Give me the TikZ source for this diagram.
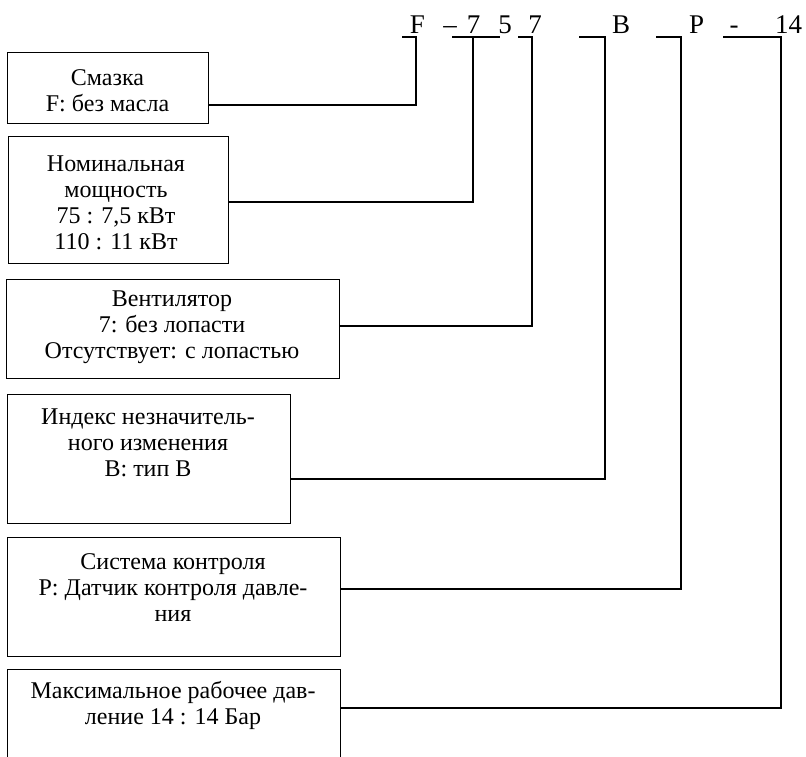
\documentclass[tikz,border=0pt]{standalone}
\usepackage{fontspec}
\setmainfont{Liberation Serif}
\usetikzlibrary{positioning}

\begin{document}
\begin{tikzpicture}[
  x=1pt,y=-1pt,
  codebox/.style 2 args={draw,line width=1.4pt,minimum width=#1,minimum height=#2,
                         anchor=north west,inner sep=0pt},
  boxtext/.style={font=\fontsize{24}{26}\selectfont,align=center,inner sep=0pt},
  codechar/.style={font=\fontsize{27}{30}\selectfont,anchor=base,inner sep=0pt},
  link/.style={line width=1.2pt},
]
\useasboundingbox (0,0) rectangle (806,756);

%% ── Code string ──────────────────────────────────────────────────────────────
\node[codechar] (cF)  at (417.5,33) {F};
\node[codechar] (cD1) at (450,33)   {–};
\node[codechar] (c7a) at (473.5,33) {7};
\node[codechar] (c5)  at (505,33)   {5};
\node[codechar] (c7b) at (535,33)   {7};
\node[codechar] (cB)  at (621,33)   {B};
\node[codechar] (cP)  at (696.5,33) {P};
\node[codechar] (cD2) at (734,33)   {-};
\node[codechar] (c14) at (788.5,33) {14};

%% underline corners
\coordinate (kF) at (416,37);  \coordinate (sF) at (402,37);
\coordinate (kN) at (473,37);  \coordinate (sN) at (452,37); \coordinate (eN) at (500,37);
\coordinate (kV) at (532,37);  \coordinate (sV) at (518,37);
\coordinate (kB) at (605,37);  \coordinate (sB) at (579,37);
\coordinate (kP) at (681,37);  \coordinate (sP) at (656,37);
\coordinate (kM) at (781,37);  \coordinate (sM) at (723,37);

%% ── Boxes ────────────────────────────────────────────────────────────────────
\node[codebox={201pt}{71pt}] (lube) at (7,52) {};
\node[boxtext] (lubeT) at (107.5,90.5) {Смазка\\F: без масла};

\node[codebox={220pt}{127pt}] (power) at (8,136) {};
\node[boxtext] (powerT) at (116,203) {Номинальная\\мощность\\75 : 7,5 кВт\\110 : 11 кВт};

\node[codebox={333pt}{99pt}] (fan) at (6,279) {};
\node[boxtext] (fanT) at (172,327.5) {Вентилятор\\7: без лопасти\\Отсутствует: с лопастью};

\node[codebox={283pt}{129pt}] (rev) at (7,394) {};
\node[boxtext] (revT) at (148,443) {Индекс незначитель-\\ного изменения\\B: тип B};

\node[codebox={333pt}{119pt}] (ctrl) at (7,537) {};
\node[boxtext] (ctrlT) at (173,588) {Система контроля\\P: Датчик контроля давле-\\ния};

\node[codebox={333pt}{101pt}] (press) at (7,669) {};
\node[boxtext] (pressT) at (173,705) {Максимальное рабочее дав-\\ление 14 : 14 Бар};

%% ── Connectors ───────────────────────────────────────────────────────────────
\draw[link] (lube.east |- 0,105)  -| (kF) -- (sF);
\draw[link] (power.east |- 0,202) -| (kN);
\draw[link] (sN) -- (eN);
\draw[link] (fan.east |- 0,326)   -| (kV) -- (sV);
\draw[link] (rev.east |- 0,479)   -| (kB) -- (sB);
\draw[link] (ctrl.east |- 0,589)  -| (kP) -- (sP);
\draw[link] (press.east |- 0,708) -| (kM) -- (sM);

\end{tikzpicture}
\end{document}
